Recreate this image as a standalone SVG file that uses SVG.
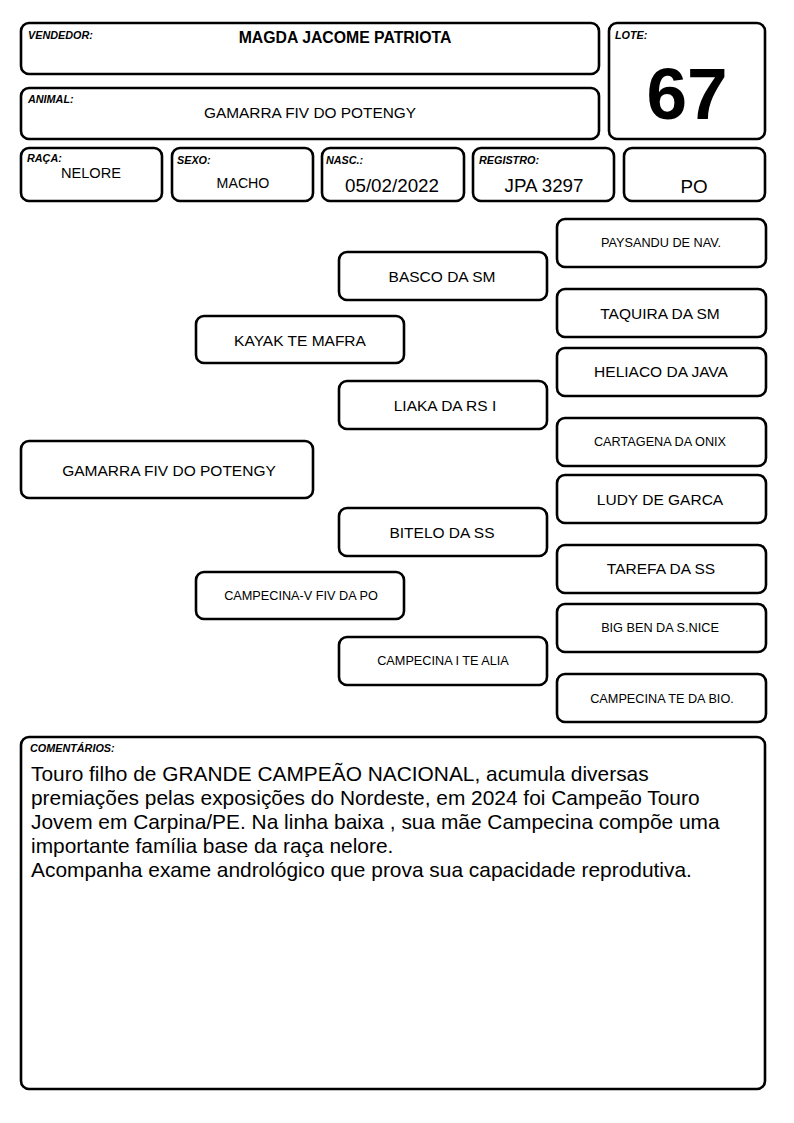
<svg xmlns="http://www.w3.org/2000/svg" width="794" height="1123" viewBox="0 0 794 1123">
<style>
  .box { fill: #ffffff; stroke: #000000; stroke-width: 2.6; }
  .lbl { font-family: "Liberation Sans", Arial, sans-serif; font-size: 10.8px; font-weight: bold; font-style: italic; fill: #000; }
  .t { font-family: "Liberation Sans", Arial, sans-serif; fill: #000; text-anchor: middle; }
  .n16 { font-size: 15.5px; }
  .n13 { font-size: 12.7px; }
  .c { font-family: "Liberation Sans", Arial, sans-serif; font-size: 20.9px; fill: #000; }
</style>
<rect width="794" height="1123" fill="#ffffff"/>

<g id="vendedor">
  <rect class="box" x="21" y="23" width="578" height="51" rx="8"/>
  <text class="lbl" x="28" y="39">VENDEDOR:</text>
  <text class="t" x="345" y="43" font-size="15.8" font-weight="bold">MAGDA JACOME PATRIOTA</text>
</g>
<g id="animal">
  <rect class="box" x="21" y="88" width="578" height="51" rx="8"/>
  <text class="lbl" x="28" y="103">ANIMAL:</text>
  <text class="t" x="310" y="118" font-size="15.4">GAMARRA FIV DO POTENGY</text>
</g>
<g id="lote">
  <rect class="box" x="609" y="23" width="156" height="116" rx="8"/>
  <text class="lbl" x="615" y="39">LOTE:</text>
  <text class="t" x="687" y="119" font-size="73" font-weight="bold">67</text>
</g>
<g id="raca">
  <rect class="box" x="21" y="148" width="141" height="53" rx="8"/>
  <text class="lbl" x="27" y="162">RAÇA:</text>
  <text class="t" x="91" y="178" font-size="14.6">NELORE</text>
</g>
<g id="sexo">
  <rect class="box" x="172" y="148" width="141" height="53" rx="8"/>
  <text class="lbl" x="177" y="164">SEXO:</text>
  <text class="t" x="243" y="188" font-size="14.2">MACHO</text>
</g>
<g id="nasc">
  <rect class="box" x="322" y="148" width="142" height="53" rx="8"/>
  <text class="lbl" x="326" y="164">NASC.:</text>
  <text class="t" x="392" y="192" font-size="18.8">05/02/2022</text>
</g>
<g id="registro">
  <rect class="box" x="473" y="148" width="141" height="53" rx="8"/>
  <text class="lbl" x="479" y="164">REGISTRO:</text>
  <text class="t" x="544" y="192" font-size="18.8">JPA 3297</text>
</g>
<g id="po">
  <rect class="box" x="624" y="148" width="141" height="53" rx="8"/>
  <text class="t" x="694" y="193" font-size="18.8">PO</text>
</g>

<g id="connectors"></g>

<g id="gamarra">
  <rect class="box" x="21" y="441" width="292" height="57" rx="8"/>
  <text class="t n16" x="169" y="476">GAMARRA FIV DO POTENGY</text>
</g>
<g id="kayak">
  <rect class="box" x="196" y="316" width="208" height="47" rx="8"/>
  <text class="t n16" x="300" y="346">KAYAK TE MAFRA</text>
</g>
<g id="campecina-v">
  <rect class="box" x="196" y="572" width="208" height="47" rx="8"/>
  <text class="t n13" x="301" y="600">CAMPECINA-V FIV DA PO</text>
</g>
<g id="basco">
  <rect class="box" x="339" y="252" width="208" height="48" rx="8"/>
  <text class="t n16" x="442" y="282">BASCO DA SM</text>
</g>
<g id="liaka">
  <rect class="box" x="339" y="381" width="208" height="48" rx="8"/>
  <text class="t n16" x="445" y="411">LIAKA DA RS I</text>
</g>
<g id="bitelo">
  <rect class="box" x="339" y="508" width="208" height="48" rx="8"/>
  <text class="t n16" x="442" y="538">BITELO DA SS</text>
</g>
<g id="campecina-i">
  <rect class="box" x="339" y="637" width="208" height="48" rx="8"/>
  <text class="t n13" x="443" y="665">CAMPECINA I TE ALIA</text>
</g>
<g id="paysandu">
  <rect class="box" x="557" y="219" width="209" height="48" rx="8"/>
  <text class="t n13" x="661" y="247">PAYSANDU DE NAV.</text>
</g>
<g id="taquira">
  <rect class="box" x="557" y="289" width="209" height="48" rx="8"/>
  <text class="t n16" x="660" y="319">TAQUIRA DA SM</text>
</g>
<g id="heliaco">
  <rect class="box" x="557" y="348" width="209" height="48" rx="8"/>
  <text class="t n16" x="661" y="377">HELIACO DA JAVA</text>
</g>
<g id="cartagena">
  <rect class="box" x="557" y="418" width="209" height="48" rx="8"/>
  <text class="t n13" x="660" y="446">CARTAGENA DA ONIX</text>
</g>
<g id="ludy">
  <rect class="box" x="557" y="475" width="209" height="48" rx="8"/>
  <text class="t n16" x="660" y="505">LUDY DE GARCA</text>
</g>
<g id="tarefa">
  <rect class="box" x="557" y="545" width="209" height="48" rx="8"/>
  <text class="t n16" x="661" y="574">TAREFA DA SS</text>
</g>
<g id="bigben">
  <rect class="box" x="557" y="604" width="209" height="48" rx="8"/>
  <text class="t n13" x="660" y="632">BIG BEN DA S.NICE</text>
</g>
<g id="campecina-te">
  <rect class="box" x="557" y="674" width="209" height="48" rx="8"/>
  <text class="t n13" x="662" y="703">CAMPECINA TE DA BIO.</text>
</g>

<g id="comentarios">
  <rect class="box" x="21" y="737" width="744" height="352" rx="8"/>
  <text class="lbl" x="30" y="752">COMENTÁRIOS:</text>
  <text class="c" x="31" y="781">Touro filho de GRANDE CAMPEÃO NACIONAL, acumula diversas</text>
  <text class="c" x="31" y="805">premiações pelas exposições do Nordeste, em 2024 foi Campeão Touro</text>
  <text class="c" x="31" y="829">Jovem em Carpina/PE. Na linha baixa , sua mãe Campecina compõe uma</text>
  <text class="c" x="31" y="853">importante família base da raça nelore.</text>
  <text class="c" x="31" y="877">Acompanha exame andrológico que prova sua capacidade reprodutiva.</text>
</g>
</svg>
